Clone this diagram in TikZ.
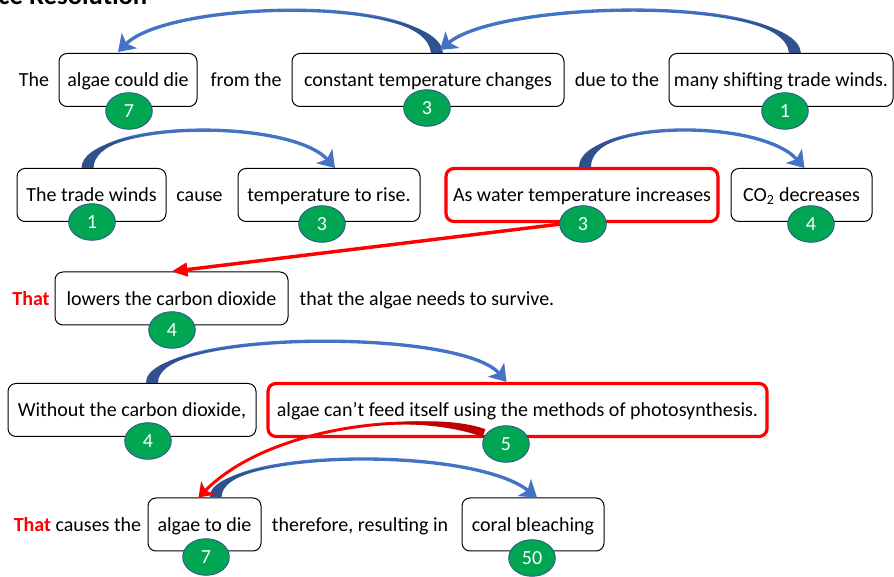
\documentclass[tikz,border=0pt]{standalone}
\usepackage{fontspec}
\setmainfont{Carlito}
\usetikzlibrary{arrows.meta,calc,shapes.geometric}

\definecolor{arrowdark}{RGB}{47,82,143}
\definecolor{arrowblue}{RGB}{68,114,196}
\definecolor{badgegreen}{RGB}{0,166,81}
\definecolor{darkred}{RGB}{190,0,0}

\tikzset{every picture/.style={line width=0.75pt}}
\tikzset{
  box/.style={draw=black, rounded corners=6pt, fill=white, minimum height=39.75pt, inner sep=0pt,
    text height=12pt, text depth=1.5pt, font=\fontsize{15}{18}\selectfont},
  redbox/.style={box, draw=red, line width=2.4pt},
  wd/.style={minimum width=#1*0.75pt},
  words/.style={inner sep=0pt, text height=12pt, text depth=1.5pt, font=\fontsize{15}{18}\selectfont},
  badge/.style={ellipse, draw=arrowdark, line width=0.6pt, fill=badgegreen, text=white,
    minimum width=35pt, minimum height=27.5pt, inner sep=0pt, font=\fontsize{15}{18}\selectfont},
  bluearc/.style={draw=arrowblue, line width=2.5pt, -{Stealth[length=12pt,width=16pt,inset=3pt]}},
  redarc/.style={draw=red, line width=2.2pt, -{Stealth[length=10pt,width=14pt,inset=2.5pt]}},
  redline/.style={draw=red, line width=2.6pt, -{Triangle[length=12pt,width=10pt]}}
}

% curved arrow: style, tail, control 1, control 2, head, half width at tail, tail colour
\newcommand{\bendarrow}[7]{%
  \draw[#1] (#2) .. controls (#3) and (#4) .. (#5);
  \path (#2) .. controls (#3) and (#4) .. (#5) coordinate[pos=0.5] (mid);
  \coordinate (q1) at ($(#2)!0.5!(#3)$);
  \coordinate (q2) at ($($(#2)!0.5!(#3)$)!0.5!($(#3)!0.5!(#4)$)$);
  \fill[#7] ($(#2)-(#6)$) .. controls ($(q1)-(#6)$) and (q2) .. (mid)
    .. controls (q2) and ($(q1)+(#6)$) .. ($(#2)+(#6)$) -- cycle;
}

\begin{document}
\begin{tikzpicture}[x=0.75pt,y=0.75pt,yscale=-1,xscale=1]
	\useasboundingbox (0,0) rectangle (894,577);
	\clip (0,0) rectangle (894,577);

	% Title Node
	\node[anchor=base west, inner sep=0pt, font=\fontsize{20}{24}\selectfont\bfseries] (title) at (-2,5) {ce Resolution};

	% Row 1
	\node[words] (the) at (34,80) {The};
	\node[box, wd=138] (algae) at (128,80) {algae could die};
	\node[words] (from) at (246,80) {from the};
	\node[box, wd=272] (constant) at (428,80) {constant temperature changes};
	\node[words] (due) at (617,80) {due to the};
	\node[box, wd=224] (winds) at (781,80) {many shifting trade winds.};

	% Row 2
	\node[box, wd=149] (trade) at (91.5,195) {The trade winds};
	\node[words] (cause) at (199.5,195) {cause};
	\node[box, wd=182] (rise) at (329,195) {temperature to rise.};
	\node[redbox, wd=272] (water) at (582,195) {As water temperature increases};
	\node[box, wd=141] (cotwo) at (801.5,195) {CO\textsubscript{2} decreases};

	% Row 3
	\node[words, text=red] (that) at (31,298.5) {\bfseries That};
	\node[box, wd=233] (lowers) at (171.5,298.5) {lowers the carbon dioxide};
	\node[words] (survive) at (427,298.5) {that the algae needs to survive.};

	% Row 4
	\node[box, wd=248] (without) at (132,410) {Without the carbon dioxide,};
	\node[redbox, wd=499] (feed) at (517.5,410) {algae can’t feed itself using the methods of photosynthesis.};

	% Row 5
	\node[words] (causes) at (77.5,524.5) {\textcolor{red}{\bfseries That} causes the};
	\node[box, wd=113] (die) at (204.5,524.5) {algae to die};
	\node[words] (therefore) at (360,524.5) {therefore, resulting in};
	\node[box, wd=142] (coral) at (533,524.5) {coral bleaching};

	% Arrow tails
	\coordinate (tail1) at ($(constant.north)+(9,0)$);
	\coordinate (tail2) at ($(winds.north)+(14,0)$);
	\coordinate (tail3) at ($(trade.north)+(-4,0)$);
	\coordinate (tail4) at ($(water.north)+(3,0)$);
	\coordinate (tail5) at ($(without.north)+(20,0)$);
	\coordinate (tail6) at ($(die.north)+(11,0)$);

	%Curved Arrows
	\bendarrow{bluearc}{tail1}{432,-5}{170,0}{$(algae.north)+(-10,-1)$}{6,0}{arrowdark}
	\bendarrow{bluearc}{tail2}{790,-5}{500,0}{$(constant.north)+(12,-3)$}{6,0}{arrowdark}
	\bendarrow{bluearc}{tail3}{88,120}{290,118}{$(rise.north)+(6,0)$}{6,0}{arrowdark}
	\bendarrow{bluearc}{tail4}{585,120}{760,118}{$(cotwo.north)+(3,0)$}{6,0}{arrowdark}
	\bendarrow{bluearc}{tail5}{150,330}{460,328}{$(feed.north)+(-11,0)$}{6,0}{arrowdark}
	\bendarrow{bluearc}{tail6}{214,450}{470,445}{$(coral.north)+(4,0)$}{6,0}{arrowdark}

	% Badges
	\node[badge] (n1) at (129,111) {7};
	\node[badge] (n2) at (427,108) {3};
	\node[badge] (n3) at (785,111) {1};
	\node[badge] (n4) at (92,222) {1};
	\node[badge] (n5) at (322,224) {3};
	\node[badge] (n7) at (811,224) {4};
	\node[badge] (n8) at (172,330) {4};
	\node[badge] (n9) at (148,441) {4};
	\node[badge] (n11) at (206,557) {7};
	\node[badge] (n12) at (532,558) {50};
	\coordinate (n6) at (583,224);
	\coordinate (n10) at (506,444);

	%Red Arrows
	\draw[redline] ($(n6)+(-22,0)$) -- (lowers.north);
	\coordinate (tail7) at ($(n10)+(-22,-11)$);
	\bendarrow{redarc}{tail7}{420,410}{270,425}{$(die.north)+(-6,0)$}{1.4,-3.8}{darkred}
	\node[badge] (badge6) at (n6) {3};
	\node[badge] (badge10) at (n10) {5};

\end{tikzpicture}
\end{document}
